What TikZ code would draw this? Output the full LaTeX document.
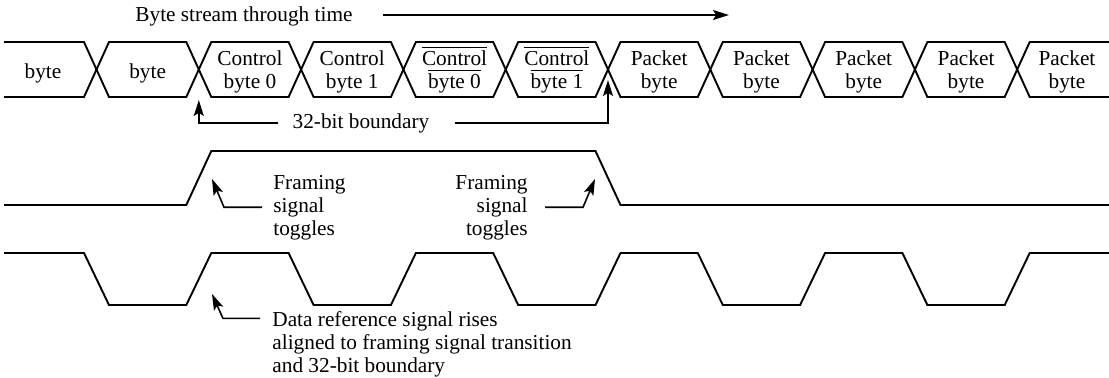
\documentclass[tikz,border=0pt]{standalone}
\usepackage{fontspec}
\setmainfont{Liberation Serif}
\usetikzlibrary{arrows.meta}

\tikzset{
  wave/.style={line width=0.95pt, line join=miter},
  note/.style={->, line width=0.8pt},
  lbl/.style={inner sep=0pt, font=\fontsize{10.65}{11.5}\selectfont},
}

\begin{document}
\begin{tikzpicture}[x=0.5pt, y=-0.5pt, >={Stealth[length=8pt,width=5pt,inset=1.6pt]},
  declare function={cx(\k)=96.5+102.3*\k;}]
  \useasboundingbox (0,0) rectangle (1109,377);
  % title and time arrow
  \node[lbl, anchor=base west] (stream) at (135,21) {Byte stream through time};
  \coordinate (timeS) at (383,15);
  \coordinate (timeE) at (729,15);
  \draw[note] (timeS) -- (timeE);

  % byte cells
  \draw[wave] (4,42) -- ({cx(0)-12.5},42) -- ({cx(0)},69.5) -- ({cx(0)-12.5},97) -- (4,97);
  \foreach \k in {1,...,9} {
    \draw[wave] ({cx(\k-1)},69.5) -- ({cx(\k-1)+12.5},42) -- ({cx(\k)-12.5},42)
      -- ({cx(\k)},69.5) -- ({cx(\k)-12.5},97) -- ({cx(\k-1)+12.5},97) -- cycle;
  }
  \draw[wave] (1109,42) -- ({cx(9)+12.5},42) -- ({cx(9)},69.5) -- ({cx(9)+12.5},97) -- (1109,97);

  % cell labels (base = last line)
  \node[lbl, anchor=base] (b0) at (43,78) {byte};
  \node[lbl, anchor=base] (b1) at ({(cx(0)+cx(1))/2},78) {byte};
  \foreach \k/\up/\dn in {2/Control/byte 0, 3/Control/byte 1,
      4/{$\overline{\mbox{Control}}$}/{$\overline{\mbox{byte 0}}$},
      5/{$\overline{\mbox{Control}}$}/{$\overline{\mbox{byte 1}}$},
      6/Packet/byte, 7/Packet/byte, 8/Packet/byte, 9/Packet/byte} {
    \node[lbl, anchor=base, align=center] (b\k) at ({(cx(\k-1)+cx(\k))/2},88) {\up\\\dn};
  }
  \node[lbl, anchor=base, align=center] (b10) at (1067,88) {Packet\\byte};

  % 32-bit boundary
  \node[lbl, anchor=base] (bnd) at (361,128) {32-bit boundary};
  \coordinate (tipA) at ({cx(1)},100);
  \coordinate (tipB) at ({cx(5)},80);
  \draw[note] ([xshift=-7pt]bnd.west) -| (tipA);
  \draw[note] ([xshift=12.5pt]bnd.east) -| (tipB);

  % framing signal
  \draw[wave] (4,205) -- ({cx(1)-12.5},205) -- ({cx(1)+12.5},151)
    -- ({cx(5)-12.5},151) -- ({cx(5)+12.5},205) -- (1109,205);
  \node[lbl, anchor=base west, align=left] (frL) at (273,235) {Framing\\signal\\toggles};
  \node[lbl, anchor=base east, align=right] (frR) at (528,235) {Framing\\signal\\toggles};
  \coordinate (frLtip) at (212,179);
  \coordinate (frRtip) at (595,179);
  \draw[note] ([xshift=-5.5pt]frL.west) -- ++(-19pt,0) -- (frLtip);
  \draw[note] ([xshift=8.5pt]frR.east) -- ++(19pt,0) -- (frRtip);

  % data reference signal
  \draw[wave] (4,253) foreach \j in {0,...,4} {
      -- ({cx(2*\j)-12.5},253) -- ({cx(2*\j)+12.5},305)
      -- ({cx(2*\j+1)-12.5},305) -- ({cx(2*\j+1)+12.5},253) } -- (1109,253);
  \node[lbl, anchor=base west, align=left] (dref) at (272,372)
    {Data reference signal rises\\aligned to framing signal transition\\and 32-bit boundary};
  \coordinate (drtip) at (212,294);
  \draw[note] ([shift={(-6pt,-3.9pt)}]dref.north west) -- ++(-18.5pt,0) -- (drtip);
\end{tikzpicture}
\end{document}
